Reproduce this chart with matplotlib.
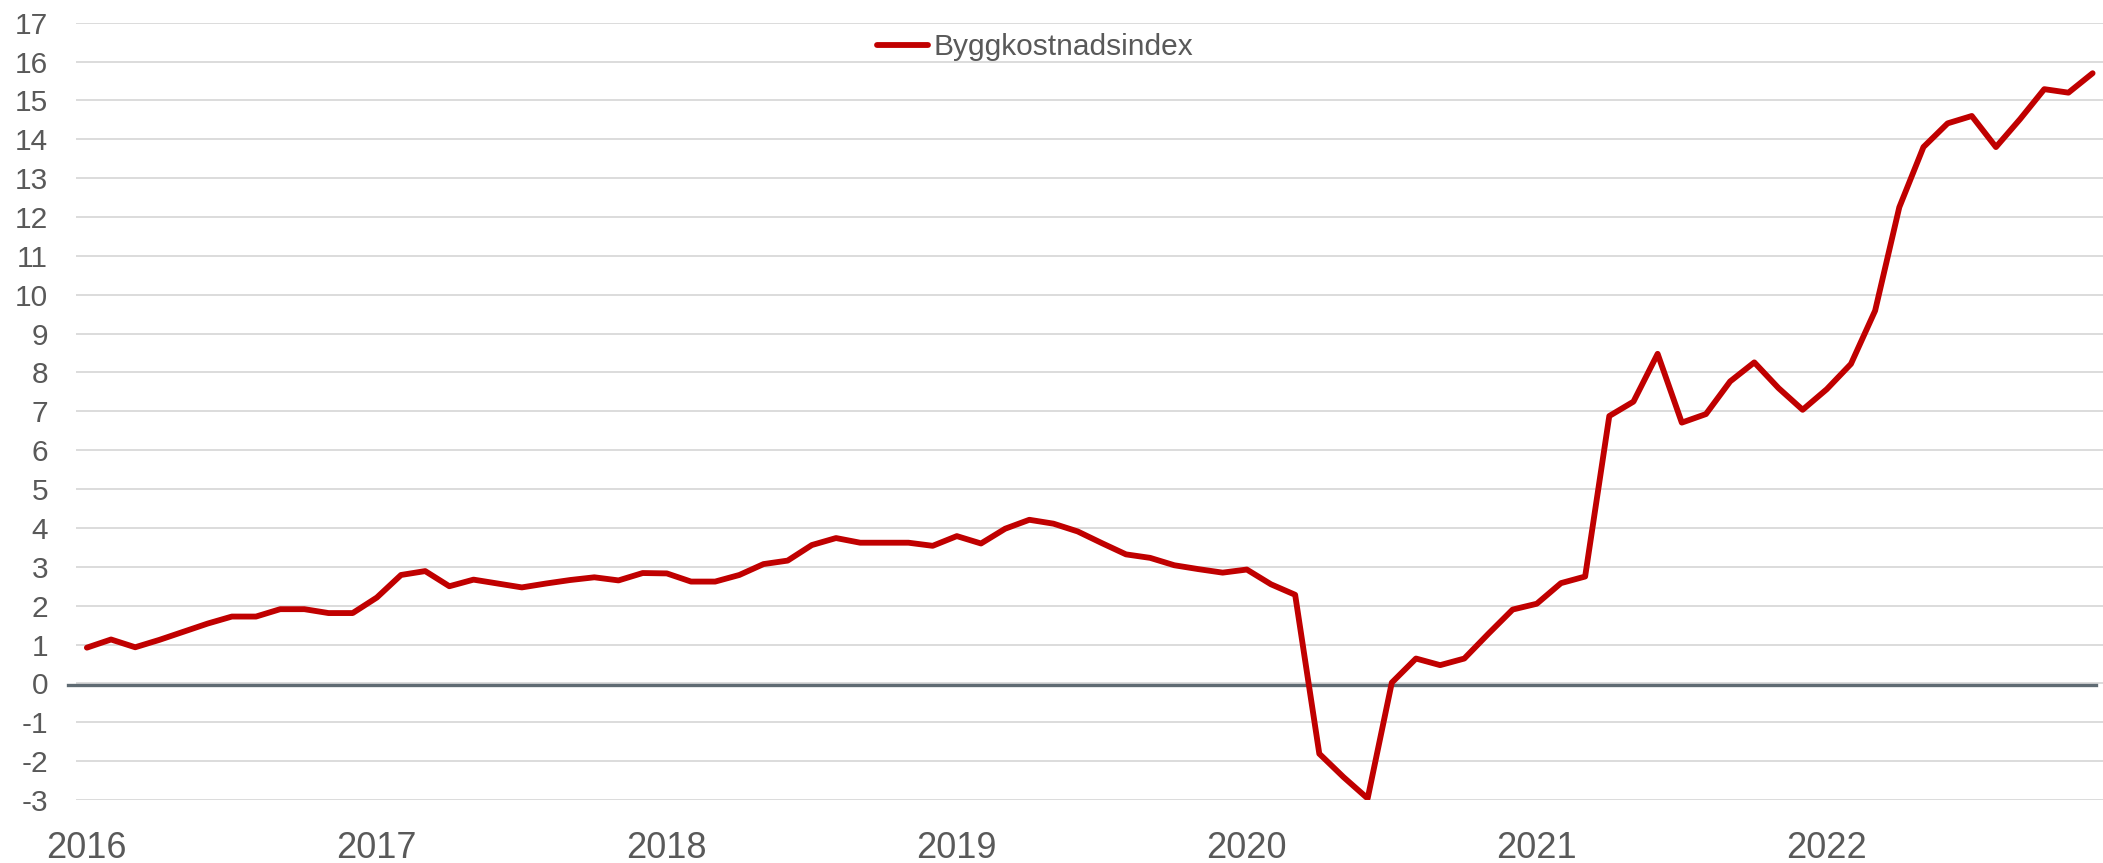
import numpy as np
import matplotlib
matplotlib.use("Agg")
from matplotlib import pyplot as plt

# Byggkostnadsindex, monthly, Jan 2016 - Dec 2022 (percent)
values_2016 = [0.92, 1.13, 0.93, 1.12, 1.33, 1.54, 1.72, 1.72, 1.91, 1.91, 1.81, 1.81]
values_2017 = [2.21, 2.79, 2.89, 2.50, 2.67, 2.57, 2.47, 2.57, 2.66, 2.73, 2.65, 2.84]
values_2018 = [2.83, 2.62, 2.62, 2.79, 3.07, 3.16, 3.56, 3.74, 3.62, 3.62, 3.62, 3.54]
values_2019 = [3.79, 3.60, 3.98, 4.21, 4.11, 3.91, 3.61, 3.32, 3.23, 3.04, 2.94, 2.85]
values_2020 = [2.93, 2.55, 2.28, -1.81, -2.41, -2.96, 0.02, 0.64, 0.47, 0.64, 1.28, 1.90]
values_2021 = [2.05, 2.58, 2.75, 6.88, 7.25, 8.48, 6.71, 6.93, 7.77, 8.26, 7.60, 7.04]
values_2022 = [7.57, 8.22, 9.59, 12.25, 13.80, 14.41, 14.60, 13.80, 14.52, 15.29, 15.20, 15.70]

years = ["2016", "2017", "2018", "2019", "2020", "2021", "2022"]
series_name = "Byggkostnadsindex"

values = (values_2016 + values_2017 + values_2018 + values_2019
          + values_2020 + values_2021 + values_2022)

plt.rcParams["font.family"] = ["Liberation Sans", "DejaVu Sans"]
plt.rcParams["axes.unicode_minus"] = False
text_color = "#595959"

# Figure size in pixels
W, H = 2103, 863
fig = plt.figure(figsize=(W / 100, H / 100), dpi=100)

left, right, top, bottom = 76, 2103, 22.7, 800
ax = fig.add_axes([left / W, 1 - bottom / H, (right - left) / W, (bottom - top) / H])

x = np.arange(len(values))
line, = ax.plot(x, values, color="#c00000", lw=4.2, solid_capstyle="round",
                solid_joinstyle="round", zorder=3, label=series_name)

# Zero line, a bit darker and reaching slightly past the grid
ax.axhline(-0.05, xmin=-0.004, xmax=0.9965, color="#5f6b73", lw=2.4, zorder=2, clip_on=False)

ax.set_xlim(-0.45, 83.43)
ax.set_ylim(-3, 17)
ax.set_yticks(np.arange(-3, 18, 1))
ax.set_xticks(x[::12])
ax.set_xticklabels(years)

ax.grid(axis="y", color="#d9d9d9", lw=1.3, zorder=0)
ax.set_axisbelow(True)
for s in ax.spines.values():
    s.set_visible(False)

ax.tick_params(axis="y", length=0, pad=20, labelsize=21.5, labelcolor=text_color)
ax.tick_params(axis="x", length=0, pad=22, labelsize=26, labelcolor=text_color)

leg = ax.legend(loc="center left", bbox_to_anchor=(876.5 / W, 1 - 47 / H),
                bbox_transform=fig.transFigure, frameon=False, borderpad=0,
                borderaxespad=0, handlelength=1.73, handletextpad=0.18,
                fontsize=21.5)
for t in leg.get_texts():
    t.set_color(text_color)

fig.savefig("out.png", dpi=100)
